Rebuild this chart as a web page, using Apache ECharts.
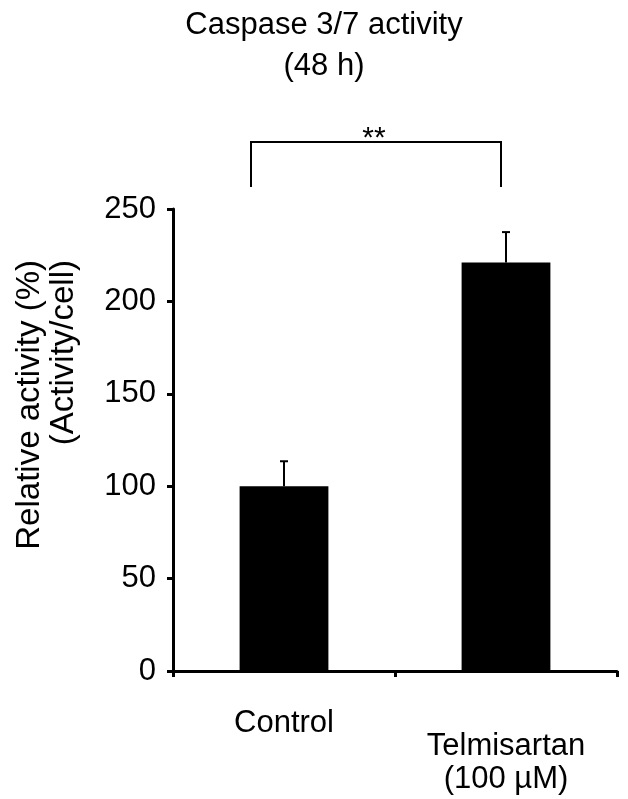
<!DOCTYPE html>
<html>
<head>
<meta charset="utf-8">
<script src="https://cdn.jsdelivr.net/npm/echarts@6/dist/echarts.min.js"></script>
<style>
  html, body { margin: 0; padding: 0; background: #fff; }
  #chart { width: 628px; height: 799px; }
</style>
</head>
<body>
<div id="chart"></div>
<script>
// values
const categories = ["Control", "Telmisartan\n(100 µM)"];
const means = [100, 221];
const errors = [13.5, 16.5];
const yTicks = [0, 50, 100, 150, 200, 250];

const FONT = "Liberation Sans, Arial, sans-serif";

const myChart = echarts.init(document.getElementById("chart"));

const option = {
	backgroundColor: "#fff",
	animation: false,
	textStyle: { fontFamily: FONT, color: "#000" },
	title: {
		text: "Caspase 3/7 activity\n(48 h)",
		left: 319,
		top: 0,
		textAlign: "center",
		textStyle: {
			fontFamily: FONT,
			fontSize: 31,
			fontWeight: "normal",
			color: "#000",
			lineHeight: 41
		}
	},
	grid: { left: 173, right: 11, top: 209, bottom: 128, outerBoundsMode: "none" },
	xAxis: {
		type: "category",
		data: categories,
		axisLine: { lineStyle: { color: "#000", width: 3 } },
		axisTick: { show: true, length: 6, lineStyle: { color: "#000", width: 3 } },
		axisLabel: {
			color: "#000",
			fontFamily: FONT,
			fontSize: 31,
			lineHeight: 33,
			verticalAlign: "middle",
			margin: 92,
			formatter: function (val) {
				if (val === "Control") return "{c|Control}";
				return val;
			},
			rich: {
				c: {
					fontFamily: FONT,
					fontSize: 31,
					color: "#000",
					lineHeight: 33,
					padding: [0, 0, 79, 0]
				}
			}
		}
	},
	yAxis: {
		type: "value",
		min: yTicks[0],
		max: yTicks[yTicks.length - 1],
		interval: 50,
		splitLine: { show: false },
		axisLine: { show: true, lineStyle: { color: "#000", width: 3 } },
		axisTick: { show: true, length: 6, lineStyle: { color: "#000", width: 3 } },
		axisLabel: { color: "#000", fontFamily: FONT, fontSize: 31, margin: 17 }
	},
	series: [
		{
			type: "bar",
			data: means,
			barWidth: "40%",
			itemStyle: { color: "#000" },
			z: 2
		},
		{
			type: "custom",
			data: means.map((m, i) => [i, m, m + errors[i]]),
			z: 3,
			renderItem: function (params, api) {
				const base = api.coord([api.value(0), api.value(1)]);
				const top = api.coord([api.value(0), api.value(2)]);
				const cap = 4;
				return {
					type: "group",
					children: [
						{
							type: "line",
							shape: { x1: base[0], y1: base[1], x2: top[0], y2: top[1] },
							style: { stroke: "#000", lineWidth: 2 }
						},
						{
							type: "line",
							shape: { x1: top[0] - cap, y1: top[1], x2: top[0] + cap, y2: top[1] },
							style: { stroke: "#000", lineWidth: 2 }
						}
					]
				};
			}
		}
	],
	graphic: [
		{
			type: "polyline",
			shape: { points: [[251, 187], [251, 142], [501, 142], [501, 187]] },
			style: { stroke: "#000", lineWidth: 2, fill: null }
		},
		{
			type: "text",
			x: 374,
			y: 139,
			style: {
				text: "**",
				font: "30px " + FONT,
				fill: "#000",
				textAlign: "center",
				textVerticalAlign: "middle"
			}
		},
		{
			type: "text",
			x: 47,
			y: 260,
			rotation: Math.PI / 2,
			style: {
				text: "Relative activity (%)\n(Activity/cell)",
				font: "33px " + FONT,
				fill: "#000",
				lineHeight: 34,
				textAlign: "right",
				textVerticalAlign: "middle"
			}
		}
	]
};

myChart.setOption(option);
</script>
</body>
</html>
